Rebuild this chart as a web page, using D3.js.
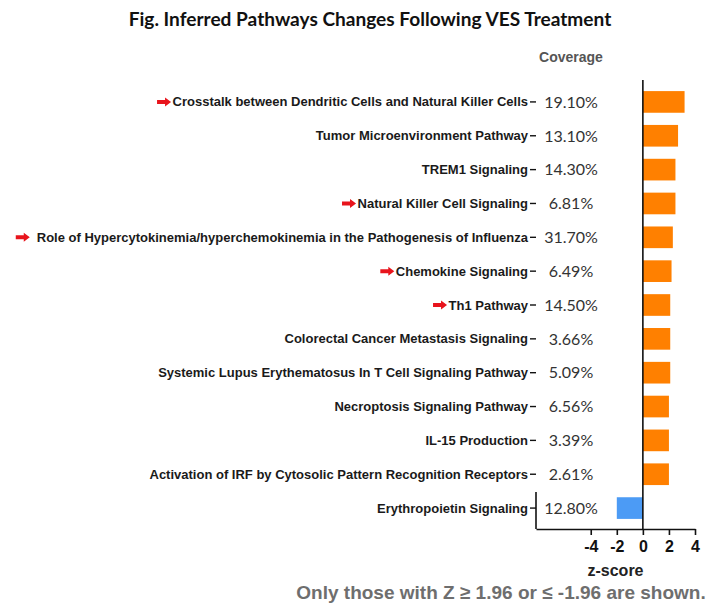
<!DOCTYPE html>
<html>
<head>
<meta charset="utf-8">
<script src="https://cdn.jsdelivr.net/npm/d3@7"></script>
<style>
  html, body { margin: 0; padding: 0; background: #fff; }
  svg { display: block; }
</style>
</head>
<body>
<svg id="chart" width="709" height="610"></svg>
<script>
const categories = [
  "Crosstalk between Dendritic Cells and Natural Killer Cells",
  "Tumor Microenvironment Pathway",
  "TREM1 Signaling",
  "Natural Killer Cell Signaling",
  "Role of Hypercytokinemia/hyperchemokinemia in the Pathogenesis of Influenza",
  "Chemokine Signaling",
  "Th1 Pathway",
  "Colorectal Cancer Metastasis Signaling",
  "Systemic Lupus Erythematosus In T Cell Signaling Pathway",
  "Necroptosis Signaling Pathway",
  "IL-15 Production",
  "Activation of IRF by Cytosolic Pattern Recognition Receptors",
  "Erythropoietin Signaling"
];
const coverage = ["19.10%", "13.10%", "14.30%", "6.81%", "31.70%", "6.49%", "14.50%",
                  "3.66%", "5.09%", "6.56%", "3.39%", "2.61%", "12.80%"];
const zScores = [3.2, 2.7, 2.5, 2.5, 2.3, 2.2, 2.1, 2.1, 2.1, 2.0, 2.0, 2.0, -2.0];
const highlighted = [true, false, false, true, true, true, true, false, false, false, false, false, false];
const xTicks = [-4, -2, 0, 2, 4];

const title = "Fig. Inferred Pathways Changes Following VES Treatment";
const footnote = "Only those with Z \u2265 1.96 or \u2264 -1.96 are shown.";

const svg = d3.select("#chart");

const x = d3.scaleLinear().domain([-8.2, 4]).range([536, 695]);
const y = d3.scaleBand().domain(categories).range([85, 525]).paddingInner(0.36).paddingOuter(0.18);
const axisY = 529;

// Title
const t = svg.append("text")
  .attr("x", 370).attr("y", 26)
  .attr("text-anchor", "middle")
  .attr("font-family", "Lato, 'Open Sans', sans-serif")
  .attr("font-weight", 700)
  .attr("font-size", 20)
  .attr("fill", "#111")
  .text(title);
const tl = t.node().getComputedTextLength();
t.attr("font-size", 20 * 483 / tl);

// Coverage header
svg.append("text")
  .attr("x", 571).attr("y", 62)
  .attr("text-anchor", "middle")
  .attr("font-family", "'Liberation Sans', Arial, sans-serif")
  .attr("font-weight", 700)
  .attr("font-size", 14)
  .attr("fill", "#555")
  .text("Coverage");

// Bars
svg.append("g").selectAll("rect")
  .data(zScores)
  .join("rect")
  .attr("x", d => x(Math.min(0, d)))
  .attr("width", d => Math.abs(x(d) - x(0)))
  .attr("y", (d, i) => y(categories[i]))
  .attr("height", y.bandwidth())
  .attr("fill", d => d >= 0 ? "#FF8000" : "#4C9BF5");

// Zero line
svg.append("line")
  .attr("x1", x(0)).attr("x2", x(0))
  .attr("y1", 80).attr("y2", axisY)
  .attr("stroke", "#111").attr("stroke-width", 1.6);

// X axis
const xAxis = d3.axisBottom(x).tickValues(xTicks).tickSize(6).tickSizeOuter(0).tickFormat(d => String(d));
const gx = svg.append("g").attr("transform", `translate(0,${axisY})`).call(xAxis);
gx.select(".domain").attr("stroke", "#111").attr("stroke-width", 1.6);
gx.selectAll(".tick line").attr("stroke", "#111").attr("stroke-width", 1.6);
gx.selectAll(".tick text")
  .attr("font-family", "'Liberation Sans', Arial, sans-serif")
  .attr("font-weight", 700)
  .attr("font-size", 16)
  .attr("fill", "#111")
  .attr("dy", "0.9em");

// Left (category) axis stub and ticks
svg.append("line")
  .attr("x1", 536).attr("x2", 536)
  .attr("y1", 492).attr("y2", axisY)
  .attr("stroke", "#111").attr("stroke-width", 1.6);

const rows = svg.append("g").selectAll("g")
  .data(categories)
  .join("g")
  .attr("transform", d => `translate(0,${y(d) + y.bandwidth() / 2})`);

rows.append("line")
  .attr("x1", 530).attr("x2", 536)
  .attr("stroke", "#111").attr("stroke-width", 1.4);

const labels = rows.append("text")
  .attr("x", 528).attr("dy", "0.35em")
  .attr("text-anchor", "end")
  .attr("font-family", "'Liberation Sans', Arial, sans-serif")
  .attr("font-weight", 700)
  .attr("font-size", 13)
  .attr("fill", "#1a1a1a")
  .text(d => d);

// Red arrows for highlighted pathways
labels.each(function(d, i) {
  if (!highlighted[i]) return;
  const w = this.getComputedTextLength();
  const gap = i === 4 ? 7 : 1.5;
  const right = 528 - w - gap;
  const left = right - 14;
  d3.select(this.parentNode).append("path")
    .attr("d", `M${left},-2 L${right - 6},-2 L${right - 6},-4.5 L${right},0 L${right - 6},4.5 L${right - 6},2 L${left},2 Z`)
    .attr("fill", "#E8141C");
});

// Coverage values
rows.append("text")
  .attr("x", 571).attr("dy", "0.36em")
  .attr("text-anchor", "middle")
  .attr("font-family", "Lato, 'Open Sans', sans-serif")
  .attr("font-size", 16)
  .attr("fill", "#333")
  .text((d, i) => coverage[i]);

// X axis title (centred under the visible axis)
svg.append("text")
  .attr("x", (536 + 695) / 2).attr("y", 576)
  .attr("text-anchor", "middle")
  .attr("font-family", "'Liberation Sans', Arial, sans-serif")
  .attr("font-weight", 700)
  .attr("font-size", 16)
  .attr("fill", "#222")
  .text("z-score");

// Footnote
svg.append("text")
  .attr("x", 501).attr("y", 599)
  .attr("text-anchor", "middle")
  .attr("font-family", "'Liberation Sans', Arial, sans-serif")
  .attr("font-weight", 700)
  .attr("font-size", 19)
  .attr("fill", "#6e6e6e")
  .text(footnote);
</script>
</body>
</html>
